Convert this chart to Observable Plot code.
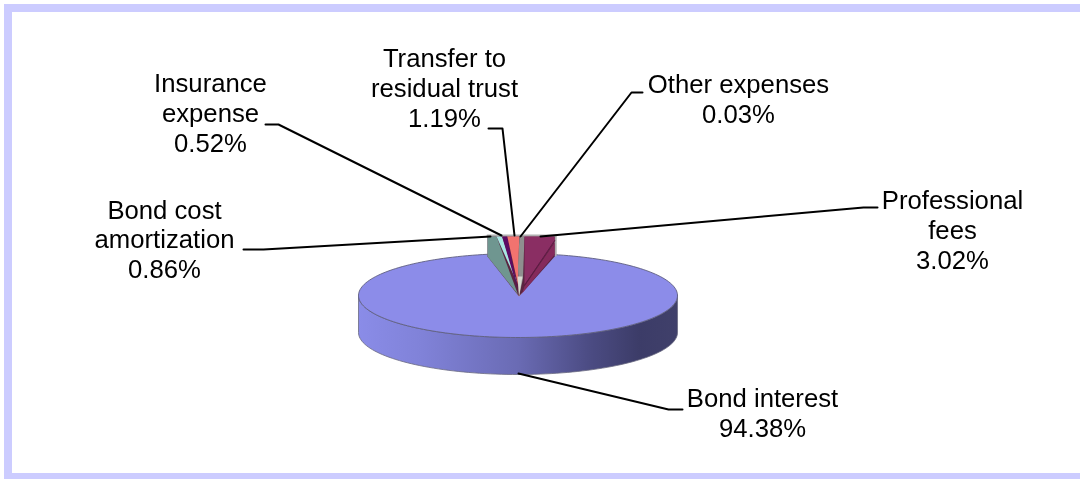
<!DOCTYPE html>
<html><head><meta charset="utf-8">
<script src="https://cdn.jsdelivr.net/npm/d3@7"></script>
<script src="https://cdn.jsdelivr.net/npm/@observablehq/plot@0.6"></script>
<style>
html,body{margin:0;padding:0;background:#fff;overflow:hidden}
#frame{position:absolute;left:4px;top:4px;right:0;bottom:0;box-sizing:border-box;border-left:8px solid #ccccff;border-top:8px solid #ccccff;border-bottom:6px solid #ccccff}
#chart{position:absolute;left:0;top:0}
#chart svg{filter:blur(0.45px)}
</style></head><body><div id="frame"></div><div id="chart"></div>
<script>
// Data
const categories = ["Bond cost amortization","Insurance expense","Transfer to residual trust","Other expenses","Professional fees"];
const shares = [0.86,0.52,1.19,0.03,3.02];
const mainCategory = "Bond interest";
const mainShare = 94.38;
const labelLines = [
  ["Bond cost","amortization","0.86%"],
  ["Insurance","expense","0.52%"],
  ["Transfer to","residual trust","1.19%"],
  ["Other expenses","0.03%"],
  ["Professional","fees","3.02%"],
  ["Bond interest","94.38%"]
];
const sliceColors = ["#a8e6e2","#5c0a63","#f2736f","#8f8f8f","#8a2e63"];

// Layout (page coordinates)
const cx = 517.5, cy = 295, rx = 159.5, ry = 42, depth = 37;
const apex = [518.5, 296], wedgeTop = 236, wedgeRim = 256, wedgeLeft = 487, wedgeRight = 554;
const pxPerPercent = 10, leftWall = 6, innerWall = 5;
const labelPos = [[164,218,29.5],[210,91,30],[444,66,30],[738,92,30],[952,208,30],[762,406,30]];
const leaders = [
  [[243,249],[263,249],[490,236]],
  [[265,124],[278,124],[501,235]],
  [[488,128],[502,128],[514,235]],
  [[642,92],[631,92],[520,236]],
  [[877,207],[863,207],[540,236]],
  [[682,409],[668,409],[518,373]]
];

const rad = d => d * Math.PI / 180;
const rim = (deg, dy = 0) => [cx + rx * Math.sin(rad(deg)), cy - ry * Math.cos(rad(deg)) + dy];
const poly = (id, fill, pts) => pts.map(([x, y]) => ({id, fill, x, y}));

// main slice: sweep derived from its share, less the gap left by the exploded wedge
const gap = 3.7;
const startDeg = 12.86, sweep = mainShare * 3.6 - gap;
const faceArc = d3.range(0, 181).map(i => rim(startDeg + sweep * i / 180));
const face = [apex, ...faceArc];
const sideTop = d3.range(0, 91).map(i => rim(90 + i * 2));
const side = [...sideTop, ...sideTop.slice().reverse().map(([x, y]) => [x, y + depth])];

// exploded wedge
let cum = 0;
const x0 = wedgeLeft + leftWall;
const bands = shares.map((s, i) => {
  const a = x0 + cum * pxPerPercent + (i === 4 ? innerWall : 0);
  cum += s;
  const b = x0 + cum * pxPerPercent + (i === 4 ? innerWall : 0);
  return [a, b];
});
const P = bands[4];
const wedge = [
  ...poly("base", "#5a2440", [apex, [wedgeLeft, wedgeRim], [wedgeLeft, wedgeTop], [P[1], wedgeTop], [P[1], wedgeRim]]),
  ...poly("wall", "#6f9690", [[apex[0]-1,apex[1]-2], [wedgeLeft, wedgeRim], [wedgeLeft, wedgeTop], [bands[0][0]+3, wedgeTop]]),
  ...poly("s0", sliceColors[0], [[apex[0]-2,apex[1]-14], [bands[0][0]+3, wedgeTop], [bands[0][1], wedgeTop]]),
  ...poly("s1", sliceColors[1], [[apex[0]-1,apex[1]-6], [bands[1][0], wedgeTop], [bands[1][1], wedgeTop]]),
  ...poly("s2", sliceColors[2], [[apex[0]-1,apex[1]-12], [bands[2][0], wedgeTop], [bands[2][1], wedgeTop]]),
  ...poly("s3", sliceColors[3], [apex, [apex[0]-1, apex[1]-30], [bands[3][1], wedgeTop], [P[0], wedgeTop], [apex[0]+4, apex[1]-18]]),
  ...poly("s3b", "#d8d8d0", [apex, [apex[0]-1.5, apex[1]-20], [apex[0]+3.5, apex[1]-20]]),
  ...poly("s4", sliceColors[4], [[P[0], wedgeTop], [P[1], wedgeTop], [P[1], wedgeTop+5], [P[0], apex[1]-12]]),
  ...poly("s4b", "#852a5c", [[P[1], wedgeTop+6], [P[1], wedgeRim-2], [apex[0]+3, apex[1]-3], [P[0], apex[1]-10]])
];
const wedgeEdge = [
  ...poly("e1", "none", [[wedgeLeft, wedgeTop-1], [P[1]+1, wedgeTop-1]]),
  ...poly("e2", "none", [[P[1]+1, wedgeTop-1], [P[1]+1, wedgeRim-1]]),
];

const font = "'Liberation Sans', Arial, sans-serif";
const fontPx = 25.7;
const leaderRows = leaders.flatMap((pts, i) => pts.map(([x, y]) => ({i, x, y})));
const textRows = labelLines.flatMap((lines, i) => lines.map((t, j) => ({t, x: labelPos[i][0], y: labelPos[i][1] + j * labelPos[i][2]})));

const gradient = () => {
  const svg = d3.create("svg:g");
  const g = svg.append("defs").append("linearGradient").attr("id","sideGrad")
    .attr("gradientUnits","userSpaceOnUse").attr("x1",cx-rx).attr("x2",cx+rx).attr("y1",0).attr("y2",0);
  [[0,"#8a8ce8"],[0.2,"#8082d8"],[0.5,"#6a6bb4"],[0.72,"#4c4c84"],[0.88,"#3c3c68"],[1,"#40406a"]]
    .forEach(([o,c]) => g.append("stop").attr("offset",o).attr("stop-color",c));
  return svg.node();
};

const chart = Plot.plot({
  width: 1080, height: 479, margin: 0,
  x: {domain: [0, 1080], range: [0, 1080], axis: null},
  y: {domain: [0, 479], range: [0, 479], axis: null},
  style: {background: "none", fontFamily: font},
  marks: [
    gradient,
    Plot.line(poly("side", "url(#sideGrad)", side), {x:"x", y:"y", fill:"url(#sideGrad)", stroke:"#6a6a80", strokeWidth:0.8, curve:"linear-closed"}),
    Plot.line(poly("face", "#8c8ce9", face), {x:"x", y:"y", fill:"#8c8ce9", stroke:"none", curve:"linear-closed"}),
    Plot.line(poly("arc", "none", faceArc), {x:"x", y:"y", stroke:"#5f5f80", strokeWidth:0.9}),
    Plot.line(wedgeEdge, {x:"x", y:"y", z:"id", stroke:"#b0b0b0", strokeWidth:2}),
    ...d3.groups(wedge, d => d.id).map(([id, rows]) =>
      Plot.line(rows, {x:"x", y:"y", fill: rows[0].fill, stroke: "none", curve:"linear-closed"})),
    Plot.line(poly("m", "none", [[P[1], wedgeTop+4], [P[0], apex[1]-11]]), {x:"x", y:"y", stroke:"#5e1a44", strokeWidth:1}),
    Plot.line(leaderRows, {x:"x", y:"y", z:"i", stroke:"#000", strokeWidth:2}),
    Plot.text(textRows, {x:"x", y:"y", text:"t", textAnchor:"middle", lineAnchor:"bottom", fontSize:fontPx, fill:"#000"})
  ]
});
document.getElementById("chart").append(chart);
</script></body></html>
